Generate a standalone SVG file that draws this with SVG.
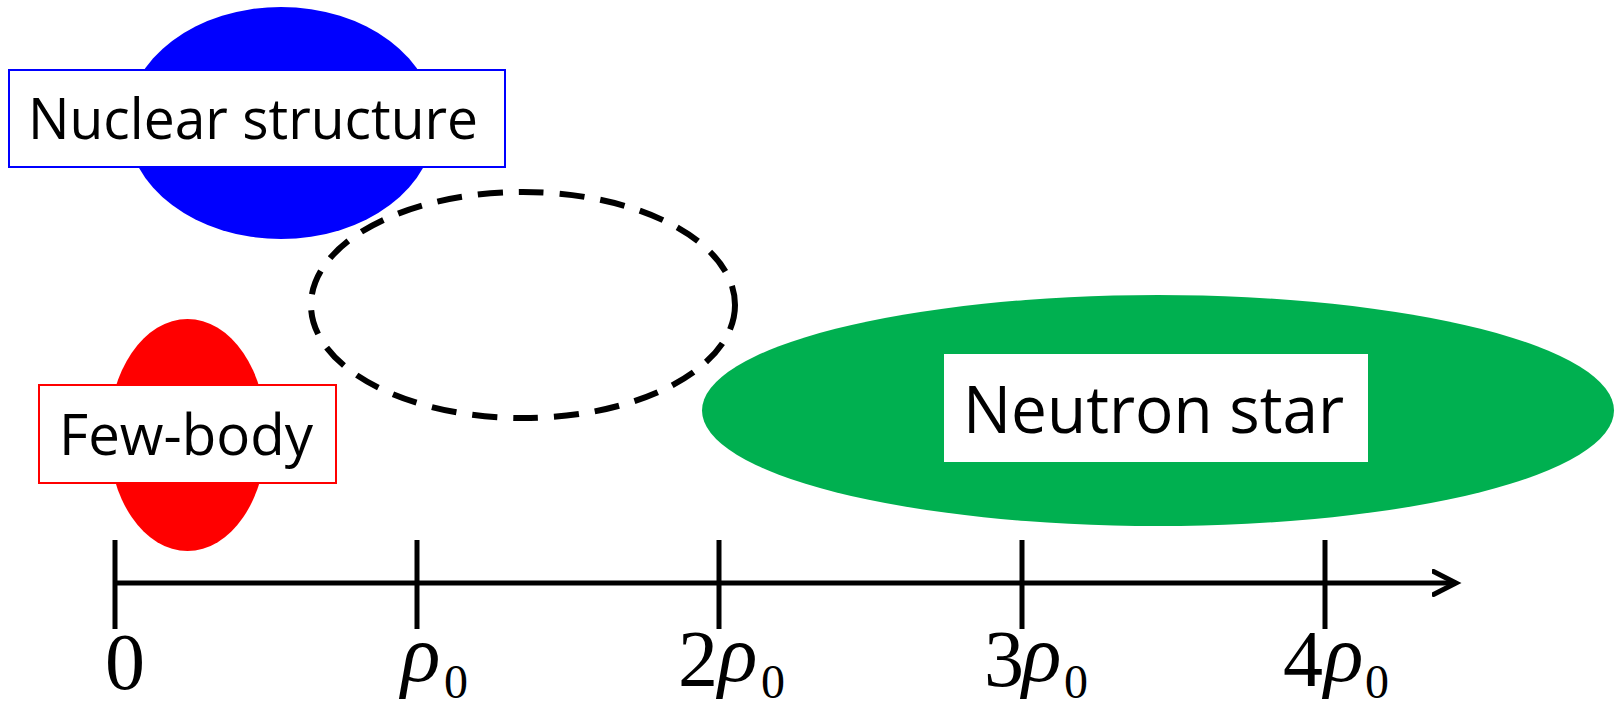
<svg xmlns="http://www.w3.org/2000/svg" width="1619" height="704" viewBox="0 0 1619 704">
<style>
.lbl{font-family:"Open Sans","Noto Sans",sans-serif;fill:#000}
.num{font-family:"Liberation Serif","Times New Roman",serif;fill:#000;font-size:80px}
.rho{font-family:"Liberation Serif","Times New Roman",serif;fill:#000;font-size:82px;font-style:italic}
.sub{font-family:"Liberation Serif","Times New Roman",serif;fill:#000;font-size:48px}
.ax{stroke:#000;stroke-width:5;fill:none}
</style>
<defs>
<marker id="arr" markerUnits="userSpaceOnUse" markerWidth="40" markerHeight="40" refX="24" refY="14" orient="auto">
<polyline points="1.5,2.5 24,14 1.5,25.5" fill="none" stroke="#000" stroke-width="5" stroke-linecap="round" stroke-linejoin="miter"/>
</marker>
</defs>
<rect width="1619" height="704" fill="#fff"/>
<g id="nuclear-structure">
<ellipse cx="281" cy="123" rx="154" ry="116" fill="#0000FF"/>
<rect x="9" y="70" width="496" height="97" fill="#fff" stroke="#0000FF" stroke-width="2"/>
<text class="lbl" x="28" y="139" font-size="57" textLength="450" lengthAdjust="spacingAndGlyphs">Nuclear structure</text>
</g>
<g id="unknown-region">
<ellipse cx="523" cy="305" rx="212" ry="113" fill="none" stroke="#000" stroke-width="6" stroke-dasharray="25 16"/>
</g>
<g id="few-body">
<ellipse cx="187.5" cy="435" rx="79" ry="116" fill="#FF0000"/>
<rect x="39" y="385" width="297" height="98" fill="#fff" stroke="#FF0000" stroke-width="2"/>
<text class="lbl" x="59" y="455" font-size="56" textLength="254" lengthAdjust="spacingAndGlyphs">Few-body</text>
</g>
<g id="neutron-star">
<ellipse cx="1158" cy="410.5" rx="456" ry="115.5" fill="#00B050"/>
<rect x="944" y="354" width="424" height="108" fill="#fff"/>
<text class="lbl" x="963" y="433" font-size="66" textLength="381" lengthAdjust="spacingAndGlyphs">Neutron star</text>
</g>
<g id="connectors">
<line class="ax" x1="113" y1="583" x2="1456" y2="583" marker-end="url(#arr)"/>
<line class="ax" x1="115" y1="540" x2="115" y2="629"/>
<line class="ax" x1="417" y1="540" x2="417" y2="629"/>
<line class="ax" x1="719" y1="540" x2="719" y2="629"/>
<line class="ax" x1="1022" y1="540" x2="1022" y2="629"/>
<line class="ax" x1="1325" y1="540" x2="1325" y2="629"/>
</g>
<g id="axis-labels">
<text class="num" x="105" y="689">0</text>
<text class="rho" x="401" y="681">ρ</text>
<text class="sub" x="444" y="698">0</text>
<text class="num" x="678" y="686">2</text>
<text class="rho" x="718" y="681">ρ</text>
<text class="sub" x="761" y="698">0</text>
<text class="num" x="984" y="686">3</text>
<text class="rho" x="1022" y="681">ρ</text>
<text class="sub" x="1064" y="698">0</text>
<text class="num" x="1283" y="686">4</text>
<text class="rho" x="1324" y="681">ρ</text>
<text class="sub" x="1365" y="698">0</text>
</g>
</svg>
